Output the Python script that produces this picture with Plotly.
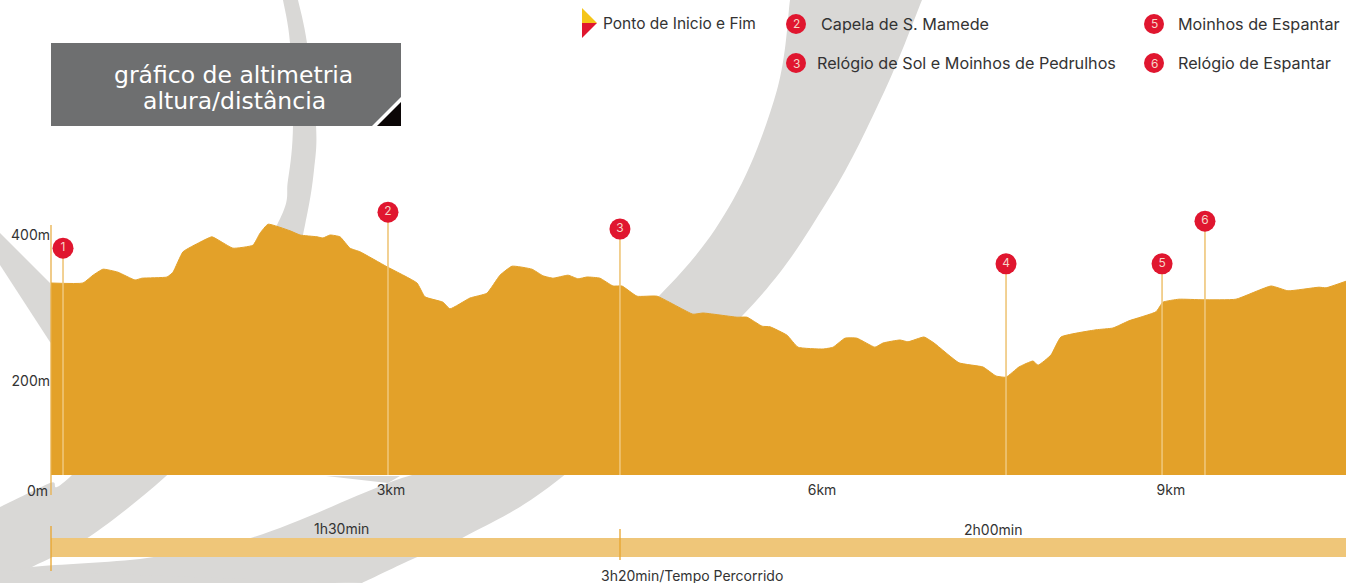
import plotly.graph_objects as go

# ---- data ----
distance_km = [0, .285, .374, .463, .596, .748, .81, 1.033, 1.086, 1.175, 1.326, 1.433, 1.522, 1.62, 1.798, 1.861, 1.932,
               2.128, 2.217, 2.368, 2.421, 2.484, 2.573, 2.662, 2.751, 2.991, 3.258, 3.329, 3.49, 3.552, 3.73, 3.881,
               3.997, 4.104, 4.282, 4.38, 4.469, 4.603, 4.692, 4.772, 4.887, 5.003, 5.083, 5.217, 5.395, 5.715, 5.804,
               6.107, 6.196, 6.33, 6.401, 6.552, 6.65, 6.873, 6.962, 7.068, 7.175, 7.335, 7.407, 7.558, 7.629, 7.772,
               7.861, 8.083, 8.297, 8.413, 8.502, 8.617, 8.742, 8.787, 8.902, 8.991, 9.303, 9.454, 9.597, 9.837, 9.899,
               10.042, 10.255, 10.549, 10.861, 11.012, 11.288, 11.351, 11.529]
altitude_m = [320, 320, 333, 343, 338, 325, 328, 330, 338, 372, 388, 397, 388, 378, 383, 403, 418,
              407, 400, 397, 395, 400, 397, 378, 372, 347, 320, 297, 288, 277, 295, 303,
              333, 348, 343, 332, 328, 333, 327, 330, 328, 315, 315, 298, 298, 268, 270,
              263, 263, 248, 247, 233, 213, 210, 213, 228, 228, 213, 220, 225, 222, 230,
              220, 187, 180, 165, 163, 180, 190, 183, 200, 230, 242, 245, 257, 272, 288,
              293, 292, 293, 315, 307, 313, 312, 323]
pin_labels = ["1", "2", "3", "4", "5", "6"]
pin_km = [0.107, 3.0, 5.065, 8.502, 9.891, 10.273]
pin_top_m = [378, 438, 410, 352, 352, 423]
x_tick_pos = [3.027, 6.864, 9.97]
x_tick_text = ["3km", "6km", "9km"]
y_tick_pos = [400, 157]
y_tick_text = ["400m", "200m"]
legend_numbers = ["2", "3", "5", "6"]
legend_names = ["Capela de S. Mamede", "Relógio de Sol e Moinhos de Pedrulhos", "Moinhos de Espantar", "Relógio de Espantar"]
start_label = "Ponto de Inicio e Fim"
time_labels = ["1h30min", "2h00min", "3h20min/Tempo Percorrido"]
title_lines = ["gráfico de altimetria", "altura/distância"]

W, H, L, B = 1346, 583, 51, 475
ORANGE, PALE, RED, GREY, INK = "#E3A129", "#EFC679", "#E0162F", "#D9D8D6", "#333333"
FONT = "Inter"


def px(x):
    return (x - L) / (W - L)


def py(y):
    return (B - y) / B


def pt(p):
    return f"{px(p[0]):.5f},{py(p[1]):.5f}"


def poly(points):
    return "M " + " L ".join(pt(p) for p in points) + " Z"


def curve(points):
    """Catmull-Rom segments through the outline points."""
    d = ""
    for i in range(len(points) - 1):
        p0 = points[max(i - 1, 0)]
        p1, p2 = points[i], points[i + 1]
        p3 = points[min(i + 2, len(points) - 1)]
        c1 = (p1[0] + (p2[0] - p0[0]) / 6, p1[1] + (p2[1] - p0[1]) / 6)
        c2 = (p2[0] - (p3[0] - p1[0]) / 6, p2[1] - (p3[1] - p1[1]) / 6)
        d += f" C {pt(c1)} {pt(c2)} {pt(p2)}"
    return d


def band(edge_a, edge_b):
    return f"M {pt(edge_a[0])}" + curve(edge_a) + f" L {pt(edge_b[0])}" + curve(edge_b) + " Z"


shapes, notes = [], []


def fill_path(path, color, layer="below"):
    shapes.append(dict(type="path", xref="paper", yref="paper", path=path, fillcolor=color,
                       line=dict(width=0), layer=layer))


def rect(x0, y0, x1, y1, color, layer="below"):
    shapes.append(dict(type="rect", xref="paper", yref="paper", x0=px(x0), x1=px(x1), y0=py(y1), y1=py(y0),
                       fillcolor=color, line=dict(width=0), layer=layer))


def vline(x, y0, y1, color, width=1.3):
    shapes.append(dict(type="line", xref="paper", yref="paper", x0=px(x), x1=px(x), y0=py(y0), y1=py(y1),
                       line=dict(color=color, width=width), layer="above"))


def text(x, y, s, size=14, color=INK, anchor="left", family=FONT):
    notes.append(dict(xref="paper", yref="paper", x=px(x), y=py(y), text=s, showarrow=False, xanchor=anchor,
                      yanchor="middle", font=dict(family=family, size=size, color=color), borderpad=0, borderwidth=0))


# background swooshes
fill_path(band([(283, 0), (290, 43), (293, 125), (288, 180), (277, 225), (200, 350), (70, 477), (50, 483), (0, 507)],
               [(0, 583), (32, 567), (89, 537), (165, 477), (230, 410), (280, 330), (305, 225), (314, 170), (316, 125), (307, 43), (298, 0)]), GREY)
fill_path(poly([(0, 233), (50, 283), (60, 350), (50, 342), (0, 265)]), GREY)
fill_path(band([(790, 0), (777, 90), (733, 200), (660, 295), (500, 440), (388, 483), (254, 537), (147, 558), (32, 567), (0, 575)],
               [(362, 583), (415, 558), (464, 537), (562, 477), (743, 315), (828, 200), (885, 90), (922, 0)]), GREY)
fill_path(poly([(0, 570), (362, 583), (0, 583)]), GREY)
fill_path(poly([(326, 476), (400, 476), (388, 483)]), GREY)

# title box
rect(51, 43, 401, 126, "#6E6F70")
fill_path(poly([(401, 97), (401, 126), (372, 126)]), "#FFFFFF")
fill_path(poly([(401, 102), (401, 126), (377, 126)]), "#0B0606")
text(233, 75, title_lines[0], 23.5, "#FFFFFF", "center", "DejaVu Sans")
text(234, 101, title_lines[1], 23.5, "#FFFFFF", "center", "DejaVu Sans")

# legend
fill_path(poly([(582, 8), (582, 23), (597, 23)]), "#F5C518")
fill_path(poly([(582, 23), (597, 23), (582, 38)]), RED)
text(603, 24, start_label, 15.5)
for num, name, cx, cy, tx in zip(legend_numbers, legend_names, [796, 796, 1154, 1154], [24, 63, 24, 63], [821, 817, 1178, 1178]):
    shapes.append(dict(type="circle", xref="paper", yref="paper", x0=px(cx - 10), x1=px(cx + 10), y0=py(cy + 10),
                       y1=py(cy - 10), fillcolor=RED, line=dict(width=0), layer="above"))
    text(cx, cy, num, 12, "#F6D5C8", "center")
    text(tx, cy, name, 16.2)

# axis start line, time bar
vline(L, 225, 495, "#E8B04B")
rect(L, 538, W, 557, PALE)
vline(L, 526, 571, "#E8A52C")
vline(620, 529, 560, "#E8A52C")
text(341, 528, time_labels[0], 14, INK, "center")
text(993, 529, time_labels[1], 14, INK, "center")
text(692, 575, time_labels[2], 14, INK, "center")
text(48, 490, "0m", 14, INK, "right")

fig = go.Figure()
fig.add_trace(go.Scatter(x=distance_km, y=altitude_m, mode="lines", fill="tozeroy", fillcolor=ORANGE,
                         line=dict(color=ORANGE, width=1, shape="spline", smoothing=0.4), hoverinfo="skip", showlegend=False))
stem_x, stem_y = [], []
for k, t in zip(pin_km, pin_top_m):
    stem_x += [k, k, None]
    stem_y += [0, t, None]
fig.add_trace(go.Scatter(x=stem_x, y=stem_y, mode="lines", line=dict(color=PALE, width=1.6), showlegend=False, hoverinfo="skip"))
fig.add_trace(go.Scatter(x=pin_km, y=pin_top_m, mode="markers+text", text=pin_labels, textposition="middle center",
                         textfont=dict(family=FONT, size=12, color="#F6D5C8"), marker=dict(color=RED, size=21, line=dict(width=0)),
                         showlegend=False, cliponaxis=False))

fig.update_layout(
    width=W, height=H, autosize=False, paper_bgcolor="#FFFFFF", plot_bgcolor="rgba(0,0,0,0)",
    margin=dict(l=L, r=0, t=0, b=H - B), shapes=shapes, annotations=notes, showlegend=False,
    font=dict(family=FONT, size=14, color=INK),
    xaxis=dict(range=[0, (W - L) / 112.33], tickmode="array", tickvals=x_tick_pos, ticktext=x_tick_text, showgrid=False,
               zeroline=False, showline=False, ticks="outside", ticklen=2, tickcolor="rgba(0,0,0,0)", tickfont=dict(size=14, color=INK)),
    yaxis=dict(range=[0, B / 0.6], tickmode="array", tickvals=y_tick_pos, ticktext=y_tick_text, showgrid=False,
               zeroline=False, showline=False, ticks="", tickfont=dict(size=14, color=INK)),
)
fig.write_html("out.html", config=dict(displayModeBar=False),
               post_script="document.body.style.margin='0';document.documentElement.style.overflow='hidden';")
